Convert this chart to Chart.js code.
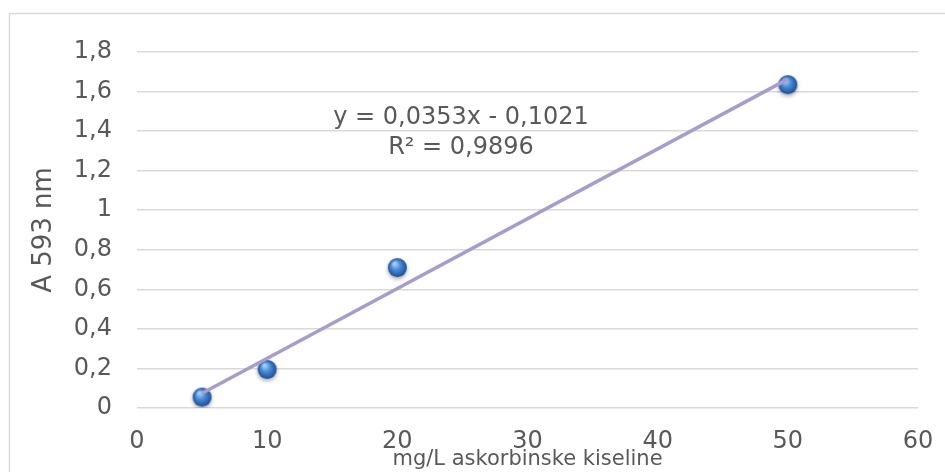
<!DOCTYPE html>
<html>
<head>
<meta charset="utf-8">
<script src="https://cdn.jsdelivr.net/npm/chart.js@4"></script>
<style>
  body { margin:0; background:#fff; }
  canvas { display:block; }
</style>
</head>
<body>
<canvas id="chart" width="945" height="472"></canvas>
<script>
// podaci
const conc = [5, 10, 20, 50];                 // mg/L askorbinske kiseline
const absorb = [0.055, 0.195, 0.71, 1.635];   // A 593 nm
const slope = 0.0353;
const intercept = -0.1021;
const eqText = 'y = 0,0353x - 0,1021';
const r2Text = 'R² = 0,9896';
const xTitle = 'mg/L askorbinske kiseline';
const yTitle = 'A 593 nm';

const textColor = '#595959';
const gridColor = '#d9d9d9';
const font = 'DejaVu Sans';

// trend linija (krajnje tocke iz jednadzbe)
const xFirst = conc[0], xLast = conc[conc.length - 1];
const trend = [
  {x: xFirst, y: slope * xFirst + intercept},
  {x: xLast, y: slope * xLast + intercept}
];

// plava kuglica kao pointStyle
function makeBall(r) {
  const c = document.createElement('canvas');
  const s = Math.ceil(r * 2 + 12);
  c.width = s; c.height = s;
  const g = c.getContext('2d');
  const cx = s / 2, cy = s / 2;
  g.save();
  g.shadowColor = 'rgba(0,0,0,0.35)';
  g.shadowBlur = 4;
  g.shadowOffsetY = 2;
  const grad = g.createRadialGradient(cx - r * 0.3, cy - r * 0.45, r * 0.1, cx, cy, r);
  grad.addColorStop(0, '#a8d0f7');
  grad.addColorStop(0.45, '#4a8ad8');
  grad.addColorStop(1, '#1d4e93');
  g.fillStyle = grad;
  g.beginPath();
  g.arc(cx, cy, r, 0, Math.PI * 2);
  g.fill();
  g.restore();
  return c;
}
const ball = makeBall(9.5);

const frame = {
  id: 'frame',
  beforeDraw(chart) {
    const ctx = chart.ctx;
    ctx.save();
    ctx.fillStyle = '#fff';
    ctx.fillRect(0, 0, chart.width, chart.height);
    ctx.strokeStyle = gridColor;
    ctx.lineWidth = 1.5;
    ctx.strokeRect(9.5, 13.5, 2000, 2000);
    ctx.restore();
  }
};

const equation = {
  id: 'equation',
  afterDatasetsDraw(chart) {
    const ctx = chart.ctx;
    ctx.save();
    ctx.fillStyle = textColor;
    ctx.font = '24px "' + font + '"';
    ctx.textAlign = 'center';
    ctx.textBaseline = 'middle';
    ctx.fillText(eqText, 461, 118);
    ctx.fillText(r2Text, 461, 148);
    ctx.restore();
  }
};

const fmt = v => Number(v.toFixed(1)).toString().replace('.', ',');

new Chart(document.getElementById('chart'), {
  type: 'scatter',
  data: {
    datasets: [
      {
        label: 'trend',
        data: trend,
        showLine: true,
        borderColor: '#a79ccb',
        borderWidth: 3.5,
        pointRadius: 0,
        order: 0
      },
      {
        label: 'A 593 nm',
        data: conc.map((x, i) => ({x: x, y: absorb[i]})),
        pointStyle: ball,
        order: 1
      }
    ]
  },
  options: {
    responsive: false,
    animation: false,
    devicePixelRatio: 1,
    layout: { padding: { left: 0, top: 52, right: 27, bottom: 0 } },
    plugins: { legend: { display: false }, tooltip: { enabled: false } },
    scales: {
      x: {
        type: 'linear', min: 0, max: 60,
        ticks: { stepSize: 10, color: textColor, font: { family: font, size: 24 }, padding: 19, callback: fmt },
        grid: { display: false, drawTicks: false },
        border: { display: false },
        title: { display: true, text: xTitle, color: textColor, font: { family: font, size: 21 }, padding: { top: 0, bottom: 0 } },
        afterFit(s) { s.height = 64; s.paddingLeft = 0; s.paddingRight = 0; }
      },
      y: {
        min: 0, max: 1.8,
        ticks: { stepSize: 0.2, color: textColor, font: { family: font, size: 24 }, padding: 25, callback: fmt },
        grid: { color: gridColor, lineWidth: 1.5, drawTicks: false },
        border: { display: false },
        title: { display: true, text: yTitle, color: textColor, font: { family: font, size: 26 }, padding: { top: 29, bottom: 0 } },
        afterFit(s) { s.width = 137; s.paddingTop = 0; s.paddingBottom = 0; }
      }
    }
  },
  plugins: [frame, equation]
});
</script>
</body>
</html>
